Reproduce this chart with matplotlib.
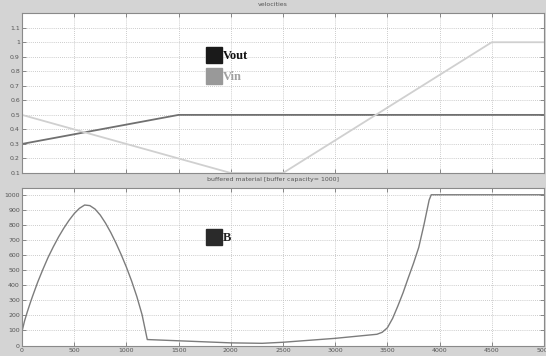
import numpy as np
import matplotlib
matplotlib.use("Agg")
import matplotlib.pyplot as plt
from matplotlib.lines import Line2D

# velocities
t_vel = [0, 1500, 2000, 2500, 4500, 5000]
vout = [0.3, 0.5, 0.5, 0.5, 0.5, 0.5]
vin = [0.5, 0.2, 0.1, 0.1, 1.0, 1.0]

# buffered material
t_b = [0, 2, 25, 50, 75, 100, 150, 200, 250, 300, 350, 400, 450, 500, 550, 600, 650,
       700, 750, 800, 850, 900, 950, 1000, 1050, 1100, 1150, 1200,
       2000, 2300, 2500, 3000, 3400, 3450, 3500, 3550, 3600, 3650, 3700, 3750, 3800,
       3850, 3900, 3920, 5000]
b = [30, 100, 165, 222, 275, 325, 420, 505, 585, 655, 720, 778, 830, 875, 910, 932, 928,
     905, 865, 812, 750, 680, 603, 520, 428, 325, 205, 40,
     18, 15, 22, 48, 75, 88, 118, 180, 262, 350, 449, 545, 650,
     800, 965, 1000, 1000]

bg = "#d4d4d4"
fig = plt.figure(figsize=(5.46, 3.56), dpi=100, facecolor=bg)

ax1 = fig.add_axes([0.0403, 0.514, 0.956, 0.449])
ax2 = fig.add_axes([0.0403, 0.028, 0.956, 0.444])

ax1.plot(t_vel, vout, color="#707070", lw=1.3)
ax1.plot(t_vel, vin, color="#d0d0d0", lw=1.3)
ax1.set_xlim(0, 5000)
ax1.set_ylim(0.1, 1.2)
ax1.set_yticks(np.arange(0.1, 1.15, 0.1))
ax1.set_yticklabels(["0.1", "0.2", "0.3", "0.4", "0.5", "0.6", "0.7", "0.8", "0.9", "1", "1.1"])
ax1.set_xticks(np.arange(0, 5001, 500))
ax1.set_xticklabels([])

ax2.plot(t_b, b, color="#7c7c7c", lw=1.0)
ax2.set_xlim(0, 5000)
ax2.set_ylim(-3, 1045)
ax2.set_yticks(np.arange(0, 1001, 100))
ax2.set_xticks(np.arange(0, 5001, 500))

for ax in (ax1, ax2):
    ax.set_facecolor("white")
    ax.grid(True, color="#bbbbbb", linestyle=(0, (1, 1.5)), lw=0.6)
    ax.tick_params(direction="in", length=3, width=0.6, colors="#777777",
                   labelsize=4.5, labelcolor="#555555", top=True, right=True, pad=1.5)
    for s in ax.spines.values():
        s.set_color("#8a8a8a")
        s.set_linewidth(0.8)

# title strips
fig.text(0.5, 0.986, "velocities", ha="center", va="center", fontsize=4.5, color="#555555")
fig.text(0.5, 0.497, "buffered material [buffer capacity= 1000]", ha="center", va="center",
         fontsize=4.5, color="#555555")

h1 = [Line2D([], [], ls="", marker="s", ms=11, color="#1a1a1a"),
      Line2D([], [], ls="", marker="s", ms=11, color="#999999")]
leg1 = ax1.legend(h1, ["Vout", "Vin"], loc="upper left", bbox_to_anchor=(0.335, 0.84),
                  frameon=False, handlelength=1.0, handletextpad=0.2, labelspacing=0.75,
                  prop={"family": "Liberation Serif", "weight": "bold", "size": 9})
leg1.get_texts()[0].set_color("#111111")
leg1.get_texts()[1].set_color("#a0a0a0")

h2 = [Line2D([], [], ls="", marker="s", ms=11, color="#2a2a2a")]
leg2 = ax2.legend(h2, ["B"], loc="upper left", bbox_to_anchor=(0.335, 0.79),
                  frameon=False, handlelength=1.0, handletextpad=0.2,
                  prop={"family": "Liberation Serif", "weight": "bold", "size": 9})
leg2.get_texts()[0].set_color("#222222")

fig.savefig("out.png", dpi=100, facecolor=bg)
